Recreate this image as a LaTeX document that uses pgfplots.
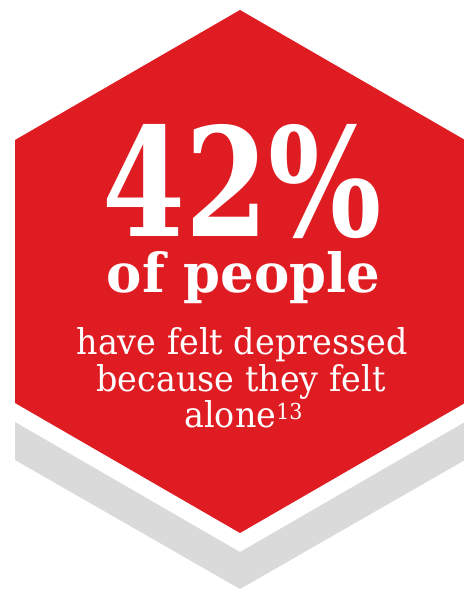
\documentclass[border=0pt]{standalone}
\usepackage{pgfplots}
\pgfplotsset{compat=1.18}
\usepackage{fontspec}
\setmainfont{DejaVu Serif}
\newfontfamily\bigfont[FakeStretch=0.79]{DejaVu Serif}
\newfontfamily\midfont[FakeStretch=0.98]{DejaVu Serif}
\newfontfamily\smallfont[FakeStretch=0.94]{DejaVu Serif}
\definecolor{hexred}{HTML}{E01C23}
\definecolor{hexgray}{HTML}{DADADA}
\begin{document}
\begin{tikzpicture}
\begin{axis}[width=464bp,height=589bp,scale only axis,
  xmin=0,xmax=464,ymin=0,ymax=589,hide axis,clip=true]
\path (axis cs:0,0) rectangle (axis cs:464,589);
% grey shadow band
\addplot[draw=none,fill=hexgray] coordinates {(15,167) (240,37) (465,167) (465,129) (240,0) (15,129)} -- cycle;
% red hexagon
\addplot[draw=none,fill=hexred] coordinates {(240,579) (15,449) (15,186) (240,56) (465,186) (465,449)} -- cycle;
\node[anchor=base,text=white,inner sep=0pt,text depth=0pt] at (axis cs:242,352) {\bigfont\bfseries\fontsize{151bp}{151bp}\selectfont 42\%};
\node[anchor=base,text=white,inner sep=0pt,text height=40bp] at (axis cs:243.5,296) {\midfont\bfseries\fontsize{54bp}{54bp}\selectfont of people};
\node[anchor=base,text=white,inner sep=0pt] at (axis cs:242,234) {\smallfont\fontsize{35.5bp}{35.5bp}\selectfont have felt depressed};
\node[anchor=base,text=white,inner sep=0pt] at (axis cs:241,197) {\smallfont\fontsize{35.5bp}{35.5bp}\selectfont because they felt};
\node[anchor=base,text=white,inner sep=0pt] at (axis cs:243.5,161) {\smallfont\fontsize{35.5bp}{35.5bp}\selectfont alone\raisebox{8bp}{\fontsize{22bp}{22bp}\selectfont 13}};
\end{axis}
\end{tikzpicture}
\end{document}
